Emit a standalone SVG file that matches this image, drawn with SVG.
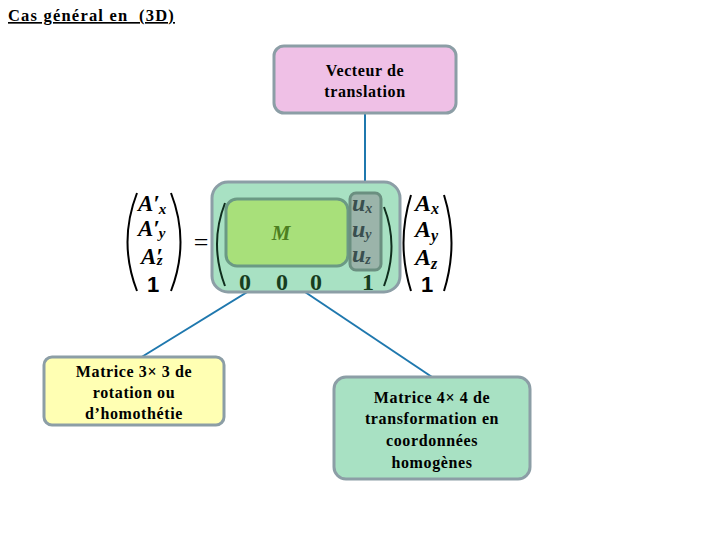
<svg xmlns="http://www.w3.org/2000/svg" width="720" height="540" viewBox="0 0 720 540">
<style>
.lbl{font-family:"Liberation Serif",serif;font-weight:bold;font-size:16px;letter-spacing:0.6px;fill:#000;text-anchor:middle}
.box{stroke:#8c9ea6;stroke-width:3}
.math{font-family:"Liberation Serif",serif;font-weight:bold;font-style:italic}
.one{font-family:"Liberation Sans",sans-serif;font-weight:bold}
.par{fill:none;stroke-width:2}
.con{stroke:#1f78ae;stroke-width:2;fill:none}
</style>
<rect width="720" height="540" fill="#fff"/>
<g id="title">
<text x="8" y="21" font-family="Liberation Serif,serif" font-weight="bold" font-size="16.5" letter-spacing="1.2" text-decoration="underline" style="white-space:pre">Cas général en  (3D)</text>
</g>
<g id="connectors">
<line class="con" x1="365" y1="113" x2="365" y2="194"/>
<line class="con" x1="288" y1="267" x2="140" y2="358"/>
<line class="con" x1="305" y1="292" x2="432" y2="377"/>
</g>
<g id="translation">
<rect class="box" x="274" y="46" width="182" height="67" rx="10" fill="#efc0e6"/>
<text class="lbl" x="365" y="76">Vecteur de</text>
<text class="lbl" x="365" y="97">translation</text>
</g>
<g id="leftvector">
<path class="par" stroke="#000" d="M137,193 Q118,242 137,291"/>
<path class="par" stroke="#000" d="M171,193 Q190,242 171,291"/>
<text class="math" font-size="23" x="138" y="211">A′<tspan font-size="15" dx="-1" dy="3">x</tspan></text>
<text class="math" font-size="23" x="138" y="236">A′<tspan font-size="15" dx="-1" dy="2">y</tspan></text>
<text class="math" font-size="23" x="141" y="264">A′<tspan font-size="15" dx="-6" dy="1">z</tspan></text>
<text class="one" font-size="22" x="153" y="292" text-anchor="middle">1</text>
<text font-family="Liberation Serif,serif" font-size="26" x="201" y="251" text-anchor="middle">=</text>
</g>
<g id="matrix">
<rect class="box" x="212" y="182" width="188" height="110" rx="16" fill="#a8e1c3"/>
<rect x="226" y="199" width="122" height="67" rx="11" fill="#a8e07a" stroke="#6b9a84" stroke-width="3"/>
<text class="math" font-size="21" x="281" y="240" text-anchor="middle" fill="#4d7f1f">M</text>
<path class="par" stroke="#102e1e" d="M225,203 Q209,244 225,286"/>
<path class="par" stroke="#102e1e" d="M384,207 Q399,246 384,286"/>
<text font-family="Liberation Serif,serif" font-weight="bold" font-size="24" fill="#173d1e" text-anchor="middle" y="290"><tspan x="245">0</tspan><tspan x="282">0</tspan><tspan x="316">0</tspan><tspan x="368">1</tspan></text>
</g>
<g id="uvec">
<rect x="350" y="193" width="31" height="77" rx="6" fill="#9bb4aa" stroke="#6b8f80" stroke-width="3"/>
<g class="math" fill="#394f4f" font-size="24">
<text x="352" y="211">u<tspan font-size="14" dy="2">x</tspan></text>
<text x="352" y="237">u<tspan font-size="14" dy="2">y</tspan></text>
<text x="352" y="262">u<tspan font-size="14" dy="2">z</tspan></text>
</g>
</g>
<g id="rightvector">
<path class="par" stroke="#000" d="M411,195 Q396,243 411,291"/>
<path class="par" stroke="#000" d="M444,195 Q459,243 444,291"/>
<text class="math" font-size="24" x="415" y="211">A<tspan font-size="16" dy="3">x</tspan></text>
<text class="math" font-size="24" x="415" y="237">A<tspan font-size="16" dy="4">y</tspan></text>
<text class="math" font-size="24" x="415" y="265">A<tspan font-size="16" dy="4">z</tspan></text>
<text class="one" font-size="22" x="427" y="292" text-anchor="middle">1</text>
</g>
<g id="rotation">
<rect class="box" x="44" y="357" width="180" height="68" rx="8" fill="#ffffb3"/>
<text class="lbl" x="134" y="377">Matrice 3× 3 de</text>
<text class="lbl" x="134" y="398">rotation ou</text>
<text class="lbl" x="134" y="419">d’homothétie</text>
</g>
<g id="transformation">
<rect class="box" x="334" y="377" width="196" height="102" rx="12" fill="#a8e1c3"/>
<text class="lbl" x="432" y="403">Matrice 4× 4 de</text>
<text class="lbl" x="432" y="424">transformation en</text>
<text class="lbl" x="432" y="446">coordonnées</text>
<text class="lbl" x="432" y="468">homogènes</text>
</g>
</svg>
